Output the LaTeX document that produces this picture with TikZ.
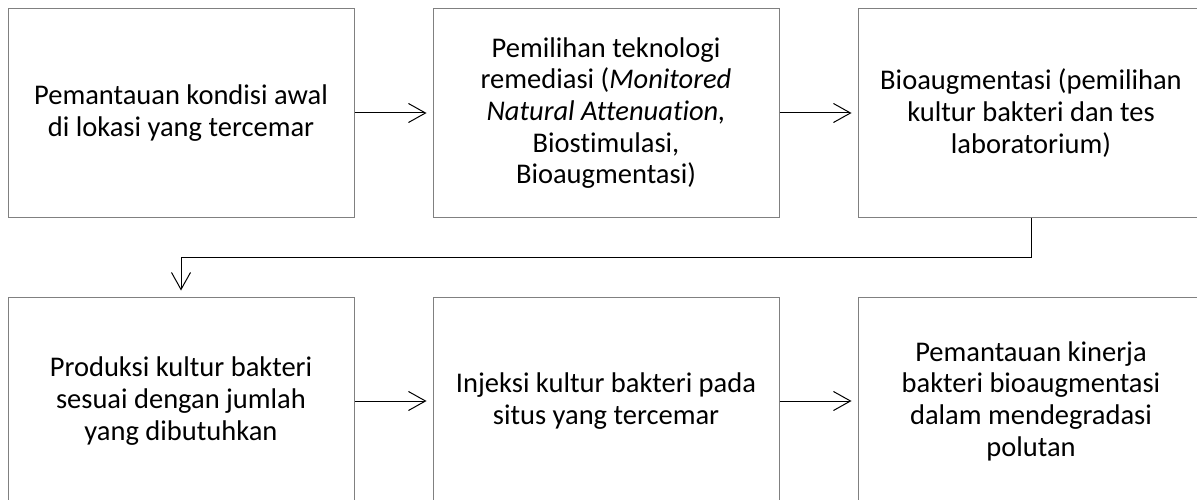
\documentclass[tikz,border=0pt]{standalone}
\usepackage{fontspec}
\setmainfont{Carlito}[Ligatures={NoCommon}]
\usetikzlibrary{arrows.meta}
\begin{document}
\begin{tikzpicture}[x=1pt,y=-1pt,
  box/.style={draw=black!50,line width=1pt,minimum width=346pt,minimum height=208pt,inner sep=0pt,align=center,font=\fontsize{28.5}{31.7}\selectfont},
  conn/.style={draw=black,line width=1pt,-{Straight Barb[length=17pt,width=19pt,line width=1pt]},shorten >=6pt}]
\useasboundingbox (0,0) rectangle (1197,500);
\clip (0,0) rectangle (1197,500);
\node[box] (b1) at (181,113) {Pemantauan kondisi awal\\di lokasi yang tercemar};
\node[box] (b2) at (606,113) {Pemilihan teknologi\\remediasi (\textit{Monitored}\\\textit{Natural Attenuation,}\\Biostimulasi,\\Bioaugmentasi)};
\node[box] (b3) at (1031,113) {Bioaugmentasi (pemilihan\\kultur bakteri dan tes\\laboratorium)};
\node[box] (b4) at (181,401) {Produksi kultur bakteri\\sesuai dengan jumlah\\yang dibutuhkan};
\node[box] (b5) at (606,401) {Injeksi kultur bakteri pada\\situs yang tercemar};
\node[box] (b6) at (1031,401) {Pemantauan kinerja\\bakteri bioaugmentasi\\dalam mendegradasi\\polutan};
\draw[conn] (b1) -- (b2);
\draw[conn] (b2) -- (b3);
\draw[conn] (b4) -- (b5);
\draw[conn] (b5) -- (b6);
\draw[conn] (b3.south) -- ++(0,40) -| (b4.north);
\end{tikzpicture}
\end{document}
